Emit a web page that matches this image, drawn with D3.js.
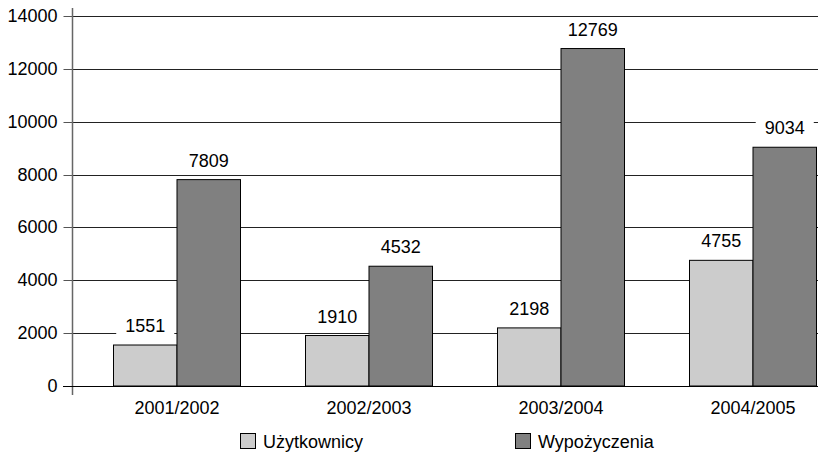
<!DOCTYPE html>
<html>
<head>
<meta charset="utf-8">
<script src="https://cdn.jsdelivr.net/npm/d3@7/dist/d3.min.js"></script>
<style>
  html, body { margin: 0; padding: 0; background: #fff; }
  svg { display: block; font-family: "Liberation Sans", Arial, sans-serif; }
</style>
</head>
<body>
<svg id="chart" width="823" height="456"></svg>
<script>
// School library statistics per school year
const years = ["2001/2002", "2002/2003", "2003/2004", "2004/2005"];
const users = [1551, 1910, 2198, 4755];        // Użytkownicy
const loans = [7809, 4532, 12769, 9034];       // Wypożyczenia
const seriesNames = ["Użytkownicy", "Wypożyczenia"];
const seriesColors = ["#cccccc", "#808080"];
const yTicks = [0, 2000, 4000, 6000, 8000, 10000, 12000, 14000];

const svg = d3.select("#chart");
const plot = { left: 72, right: 818, top: 16, bottom: 386 };

const y = d3.scaleLinear().domain([0, 14000]).range([plot.bottom, plot.top]);
const x = d3.scalePoint().domain(years).range([177, 753]).padding(0);
const barW = 63.5;

const series = [users, loans];

// horizontal gridlines
svg.append("g").selectAll("line")
  .data(yTicks.filter(d => d > 0))
  .join("line")
  .attr("x1", plot.left).attr("x2", plot.right)
  .attr("y1", d => Math.round(y(d)) + 0.5).attr("y2", d => Math.round(y(d)) + 0.5)
  .attr("stroke", "#222").attr("stroke-width", 1);

// y axis
const yAxis = d3.axisLeft(y).tickValues(yTicks).tickSize(9).tickPadding(6).tickFormat(d3.format("d"));
const gy = svg.append("g")
  .attr("transform", `translate(${plot.left + 0.5},0)`)
  .call(yAxis);
gy.select(".domain").remove();
gy.selectAll(".tick line").attr("stroke", "#555").attr("stroke-width", 1);
gy.selectAll(".tick text").attr("font-size", 18).attr("fill", "#000")
  .attr("font-family", "Liberation Sans, Arial, sans-serif");
gy.selectAll(".tick line").each(function(d){
  d3.select(this.parentNode).attr("transform", `translate(0,${Math.round(y(d)) + 0.5})`);
});
svg.append("line")
  .attr("x1", plot.left + 0.5).attr("x2", plot.left + 0.5)
  .attr("y1", 8).attr("y2", 395)
  .attr("stroke", "#666").attr("stroke-width", 1.5);

// bars
series.forEach((vals, si) => {
  svg.append("g").selectAll("rect")
    .data(vals)
    .join("rect")
    .attr("x", (d, i) => x(years[i]) + (si === 0 ? -barW : 0))
    .attr("y", d => y(d))
    .attr("width", barW)
    .attr("height", d => y(0) - y(d))
    .attr("fill", seriesColors[si])
    .attr("stroke", "#000").attr("stroke-width", 1);
});

// baseline
svg.append("line")
  .attr("x1", plot.left - 9).attr("x2", plot.right)
  .attr("y1", Math.round(y(0)) + 0.5).attr("y2", Math.round(y(0)) + 0.5)
  .attr("stroke", "#000").attr("stroke-width", 1);

// value labels on white backgrounds
series.forEach((vals, si) => {
  const g = svg.append("g");
  vals.forEach((v, i) => {
    const cx = x(years[i]) + (si === 0 ? -barW / 2 : barW / 2);
    const by = y(v) - 13;
    const lg = g.append("g");
    const t = lg.append("text")
      .attr("x", cx).attr("y", by)
      .attr("text-anchor", "middle")
      .attr("font-size", 18).attr("fill", "#000")
      .text(v);
    const bb = t.node().getBBox();
    lg.insert("rect", "text")
      .attr("x", bb.x - 9).attr("y", bb.y - 2)
      .attr("width", bb.width + 18).attr("height", bb.height + 4)
      .attr("fill", "#fff");
  });
});

// category labels
svg.append("g").selectAll("text")
  .data(years)
  .join("text")
  .attr("x", d => x(d))
  .attr("y", 414)
  .attr("text-anchor", "middle")
  .attr("font-size", 18).attr("fill", "#000")
  .text(d => d);

// legend
const legendX = [240, 515];
seriesNames.forEach((name, si) => {
  const g = svg.append("g").attr("transform", `translate(${legendX[si]},0)`);
  g.append("rect")
    .attr("x", 0.5).attr("y", 433.5).attr("width", 15).attr("height", 15)
    .attr("fill", seriesColors[si]).attr("stroke", "#000").attr("stroke-width", 1);
  g.append("text")
    .attr("x", 23).attr("y", 448)
    .attr("font-size", 18).attr("fill", "#000")
    .text(name);
});
</script>
</body>
</html>
